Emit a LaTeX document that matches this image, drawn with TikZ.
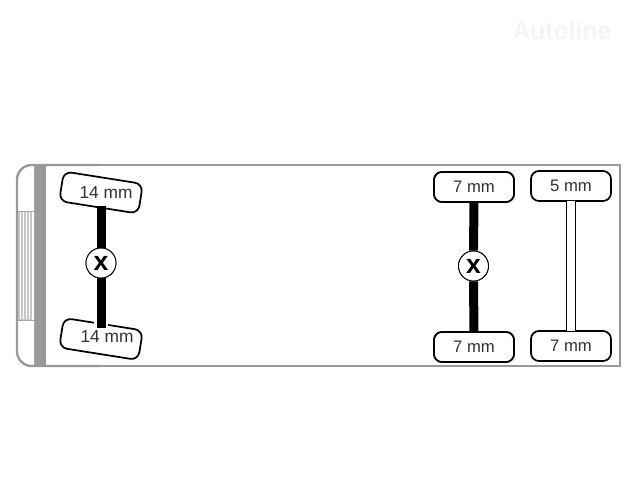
\documentclass[tikz,border=0pt]{standalone}
\usepackage{fontspec}
\setmainfont{Liberation Sans}
\tikzset{
  tyre/.style={draw=black,line width=1.3pt,rounded corners=6pt,fill=white,minimum width=60pt,minimum height=22.5pt,inner sep=0pt,font=\fontsize{12.5}{12.5}\selectfont,text=black!80},
  hub/.style={circle,draw=black,line width=0.7pt,fill=white,minimum size=22.5pt,inner sep=0pt,font=\fontsize{20}{20}\selectfont\bfseries},
  axle/.style={line width=6.75pt,black},
  thinaxle/.style={draw=black,line width=0.7pt,fill=white},
  label14/.style={font=\fontsize{13}{13}\selectfont,text=black!80,inner sep=0pt},
  body/.style={draw=black!40,line width=1.8pt,rounded corners=11pt},
}
\begin{document}
\begin{tikzpicture}[x=0.75pt,y=-0.75pt]
\useasboundingbox (0,0) rectangle (640,480);
\fill[white] (0,0) rectangle (640,480);
% watermark
\node[inner sep=0pt,font=\fontsize{18.5}{18.5}\selectfont\bfseries,text=black!4] (wm) at (562,31) {Autoline};
% body
\fill[black!40] (35,165) rectangle (46,366);
% grille
\fill[black!22] (18,211) rectangle (32,320);
\foreach \gx in {20,23,26,29}{\draw[white,line width=0.5pt] (\gx,212) -- (\gx,319);}
\draw[black!35,line width=0.6pt] (18,211) -- (34,211);
\draw[black!35,line width=0.6pt] (18,320) -- (34,320);
\draw[black!35,line width=0.6pt] (34.5,165) -- (34.5,366);
\draw[body] (100,165) -- (17,165) -- (17,366) -- (100,366);
\draw[draw=black!40,line width=1.8pt] (100,165) -- (620,165) -- (620,366) -- (100,366);
% axle 1
\node[tyre,rotate=-9] (a) at (101,192.5) {};
\node[tyre,rotate=-9] (b) at (101,339) {};
\node[hub] (h1) at (101,263) {x};
\coordinate (b1) at (101,328);
\draw[white,line width=11pt] (101,319) -- (b1);
\draw[axle] (a) ++(0,13) -- (h1);
\draw[axle] (h1) -- (b1);
\node[label14] (ta) at (106,193) {14 mm};
\node[label14] (tb) at (107,337) {14 mm};
\node[hub] at (101,263) {x};
% axle 2
\node[tyre] (c) at (474,187) {7 mm};
\node[tyre] (d) at (474,347) {7 mm};
\node[hub] (h2) at (473.5,266) {x};
\draw[axle] (c) -- (h2);
\draw[axle] (h2) -- (d);
\node[tyre] at (474,187) {7 mm};
\node[tyre] at (474,347) {7 mm};
\node[hub] at (473.5,266) {x};
% axle 3
\node[tyre] (e) at (571,186) {5 mm};
\node[tyre] (f) at (571,346) {7 mm};
\draw[thinaxle] (566.5,200.5) rectangle (575,331.5);
\end{tikzpicture}
\end{document}
